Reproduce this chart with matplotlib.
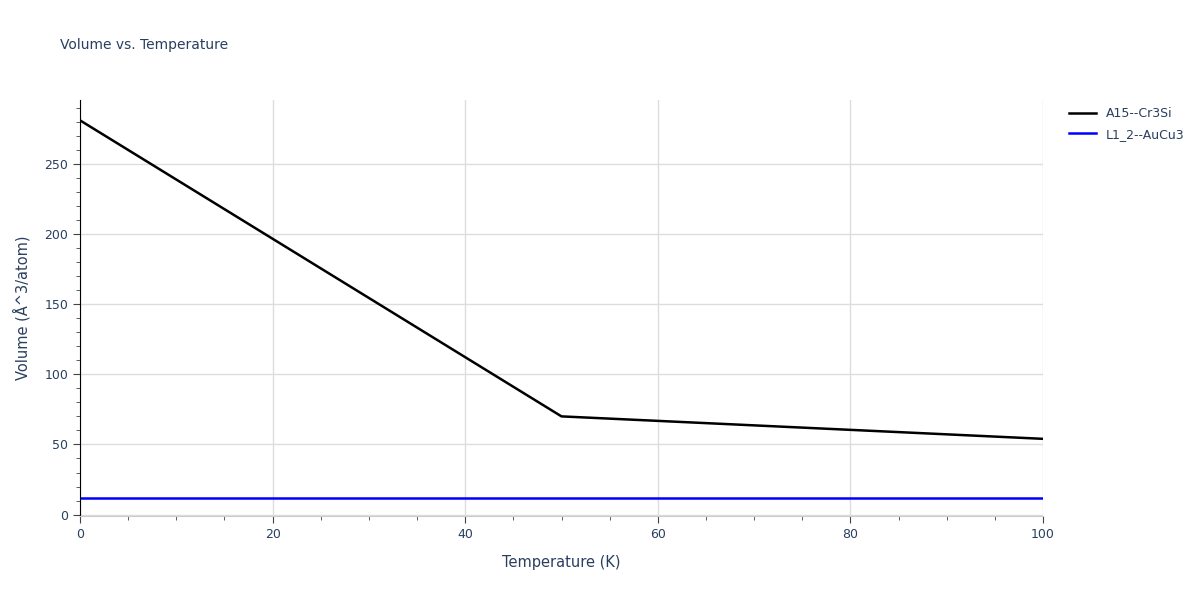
import matplotlib.pyplot as plt
from matplotlib.ticker import MultipleLocator

temps = [0, 50, 100]
vol_a15 = [281, 70, 54]
vol_l12 = [12, 12, 12]

fig = plt.figure(figsize=(12, 6), dpi=100)
ax = fig.add_axes([80/1200, 84/600, 963/1200, 416/600])

ax.plot(temps, vol_a15, color='black', lw=1.8, label='A15--Cr3Si')
ax.plot(temps, vol_l12, color='blue', lw=1.8, label='L1_2--AuCu3')

ax.set_xlim(0, 100)
ax.set_ylim(-1, 295.5)
ax.xaxis.set_major_locator(MultipleLocator(20))
ax.xaxis.set_minor_locator(MultipleLocator(5))
ax.yaxis.set_major_locator(MultipleLocator(50))
ax.yaxis.set_minor_locator(MultipleLocator(10))
ax.grid(True, which='major', color='#dddddd', lw=1)
ax.set_axisbelow(True)
for s in ['top', 'right']:
    ax.spines[s].set_visible(False)
ax.spines['left'].set_color('black')
ax.spines['bottom'].set_color('#cccccc')
ax.tick_params(which='both', colors='#444444', labelcolor='#2a3f5f', labelsize=9)
ax.tick_params(which='major', length=5)
ax.tick_params(which='minor', length=3)

ax.set_xlabel('Temperature (K)', color='#2a3f5f', fontsize=10.5, labelpad=10)
ax.set_ylabel('Volume (Å^3/atom)', color='#2a3f5f', fontsize=10.5, labelpad=10)
fig.text(60/1200, 1 - 45/600, 'Volume vs. Temperature', color='#2a3f5f', fontsize=10, va='center')

leg = ax.legend(loc='upper left', bbox_to_anchor=(1.015, 1.01), frameon=False,
                fontsize=9, handlelength=2.2, labelspacing=0.6)
for t in leg.get_texts():
    t.set_color('#2a3f5f')

fig.savefig('out.png', dpi=100)
